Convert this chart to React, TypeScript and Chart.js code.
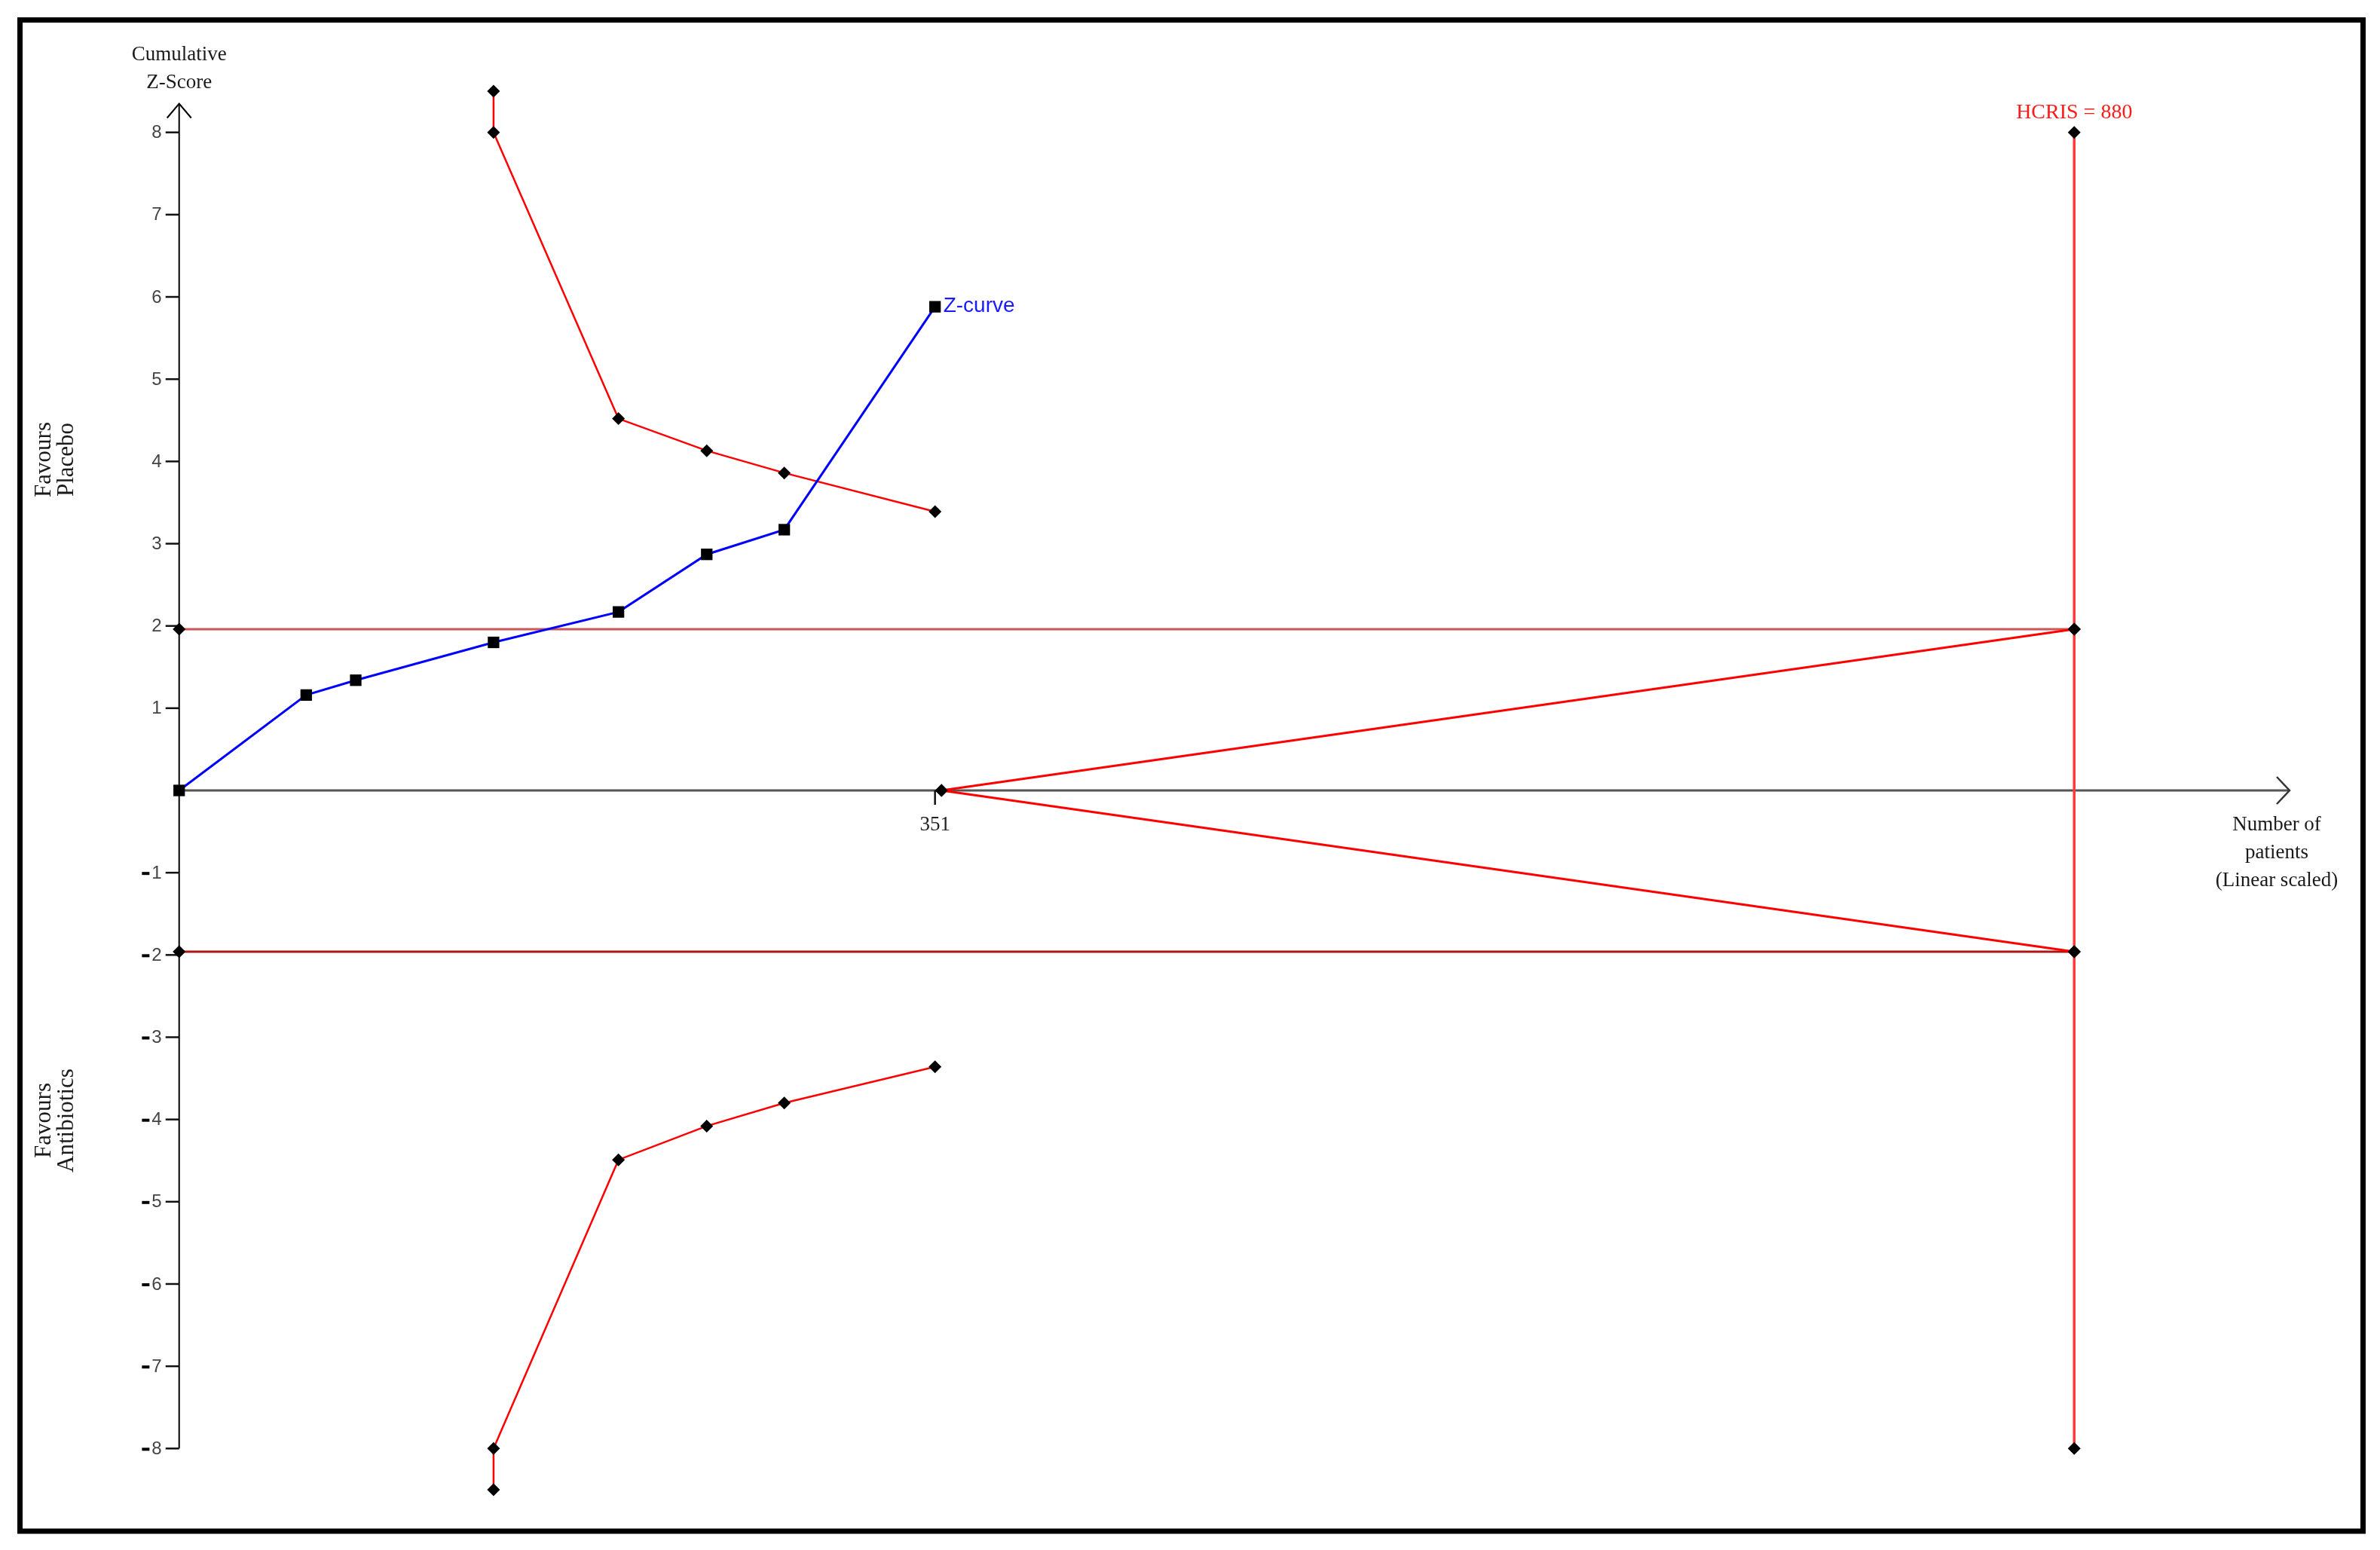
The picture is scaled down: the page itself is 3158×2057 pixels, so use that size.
import React, { useEffect, useRef } from 'react';
import { Chart, registerables } from 'chart.js';

Chart.register(...registerables);

// ---- Data ----
const zCurvePatients = [0, 59, 82, 146, 204, 245, 281, 351];
const zCurveScores = [0, 1.16, 1.34, 1.8, 2.17, 2.87, 3.17, 5.88];

const boundaryPatients = [146, 146, 204, 245, 281, 351];
const upperBoundary = [8.5, 8, 4.52, 4.13, 3.86, 3.39];
const lowerBoundary = [-8.5, -8, -4.49, -4.08, -3.8, -3.36];

const conventionalPatients = [0, 880];
const conventionalUpper = [1.96, 1.96];
const conventionalLower = [-1.96, -1.96];

const wedgePatients = [354, 880];
const wedgeUpper = [0, 1.96];
const wedgeLower = [0, -1.96];

const risPatients = [880, 880, 880, 880];
const risValues = [8, 1.96, -1.96, -8];

const yTickValues = [-8, -7, -6, -5, -4, -3, -2, -1, 1, 2, 3, 4, 5, 6, 7, 8];
const xTickValues = [351];
const xTickLabels = ['351'];

const risPatientsLabel = 'HCRIS = 880';
const zCurveLabel = 'Z-curve';
const yTitleLines = ['Cumulative', 'Z-Score'];
const xTitleLines = ['Number of', 'patients', '(Linear scaled)'];
const upperSideLines = ['Favours', 'Placebo'];
const lowerSideLines = ['Favours', 'Antibiotics'];

const X_MIN = 0;
const X_MAX = 980;
const Y_MIN = -8.6;
const Y_MAX = 8.6;
const Y_AXIS_BOTTOM = -8;
const Y_AXIS_TOP = 8.35;

const pts = (xs: number[], ys: number[]) => xs.map((x, i) => ({ x, y: ys[i] }));

const SERIF = "'Liberation Serif', 'Times New Roman', serif";
const SANS = "'Liberation Sans', Arial, sans-serif";

const decorPlugin = {
  id: 'tsaDecor',
  beforeDraw(chart: any) {
    const ctx = chart.ctx;
    ctx.save();
    ctx.fillStyle = '#ffffff';
    ctx.fillRect(0, 0, chart.width, chart.height);
    ctx.restore();
  },
  beforeDatasetsDraw(chart: any) {
    const ctx = chart.ctx;
    const xs = chart.scales.x;
    const ys = chart.scales.y;
    const x0 = xs.getPixelForValue(0);
    const y0 = ys.getPixelForValue(0);
    const yTop = ys.getPixelForValue(Y_AXIS_TOP);
    ctx.save();
    // y axis
    ctx.strokeStyle = '#000';
    ctx.lineWidth = 2;
    ctx.beginPath();
    ctx.moveTo(x0, ys.getPixelForValue(Y_AXIS_BOTTOM));
    ctx.lineTo(x0, yTop);
    ctx.stroke();
    ctx.beginPath();
    ctx.moveTo(x0 - 16, yTop + 19);
    ctx.lineTo(x0, yTop);
    ctx.lineTo(x0 + 16, yTop + 19);
    ctx.stroke();
    // y ticks + labels
    ctx.lineWidth = 2.5;
    ctx.textBaseline = 'middle';
    ctx.textAlign = 'right';
    for (const v of yTickValues) {
      const py = ys.getPixelForValue(v);
      ctx.strokeStyle = '#111';
      ctx.beginPath();
      ctx.moveTo(x0 - 18, py);
      ctx.lineTo(x0, py);
      ctx.stroke();
      const digits = String(Math.abs(v));
      ctx.font = `24px ${SANS}`;
      ctx.fillStyle = '#444';
      const labelRight = x0 - 23;
      ctx.fillText(digits, labelRight, py + 1);
      if (v < 0) {
        const w = ctx.measureText(digits).width;
        ctx.fillStyle = '#000';
        ctx.fillRect(labelRight - w - 13, py - 1, 10, 4);
      }
    }
    // x axis
    ctx.strokeStyle = '#555';
    ctx.lineWidth = 3;
    ctx.beginPath();
    ctx.moveTo(x0, y0);
    ctx.lineTo(xs.right, y0);
    ctx.stroke();
    ctx.lineWidth = 2.5;
    ctx.strokeStyle = '#333';
    ctx.beginPath();
    ctx.moveTo(xs.right - 17, y0 - 18);
    ctx.lineTo(xs.right, y0);
    ctx.lineTo(xs.right - 17, y0 + 18);
    ctx.stroke();
    // x ticks
    ctx.strokeStyle = '#111';
    ctx.lineWidth = 2.5;
    ctx.font = `27px ${SERIF}`;
    ctx.fillStyle = '#222';
    ctx.textAlign = 'center';
    xTickValues.forEach((v, i) => {
      const px = xs.getPixelForValue(v);
      ctx.beginPath();
      ctx.moveTo(px, y0);
      ctx.lineTo(px, y0 + 19);
      ctx.stroke();
      ctx.fillText(xTickLabels[i], px, y0 + 46);
    });
    ctx.restore();
  },
  afterDraw(chart: any) {
    const ctx = chart.ctx;
    const xs = chart.scales.x;
    const ys = chart.scales.y;
    const x0 = xs.getPixelForValue(0);
    const y0 = ys.getPixelForValue(0);
    ctx.save();
    ctx.textAlign = 'center';
    ctx.textBaseline = 'middle';
    // y title
    ctx.font = `27px ${SERIF}`;
    ctx.fillStyle = '#1a1a1a';
    yTitleLines.forEach((t, i) => ctx.fillText(t, x0, 73 + i * 37));
    // x title
    const xt = xs.getPixelForValue(X_MAX) - 17;
    xTitleLines.forEach((t, i) => ctx.fillText(t, xt, y0 + 46 + i * 37));
    // RIS label
    ctx.fillStyle = '#ff1a1a';
    ctx.font = `28px ${SERIF}`;
    ctx.fillText(risPatientsLabel, xs.getPixelForValue(880), ys.getPixelForValue(8) - 26);
    // Z-curve label
    ctx.fillStyle = '#1a1aff';
    ctx.font = `28px ${SANS}`;
    ctx.textAlign = 'left';
    const lastI = zCurvePatients.length - 1;
    ctx.fillText(
      zCurveLabel,
      xs.getPixelForValue(zCurvePatients[lastI]) + 11,
      ys.getPixelForValue(zCurveScores[lastI]) - 1
    );
    // side labels (rotated)
    ctx.fillStyle = '#1a1a1a';
    ctx.font = `31px ${SERIF}`;
    ctx.textAlign = 'center';
    const drawSide = (lines: string[], cy: number) => {
      ctx.save();
      ctx.translate(74, cy);
      ctx.rotate(-Math.PI / 2);
      lines.forEach((t, i) => ctx.fillText(t, 0, -15 + i * 30));
      ctx.restore();
    };
    drawSide(upperSideLines, 610);
    drawSide(lowerSideLines, 1487);
    // frame
    ctx.strokeStyle = '#000';
    ctx.lineWidth = 7;
    ctx.strokeRect(26.5, 26.5, 3109, 2005.5);
    ctx.restore();
  },
};

export default function App() {
  const canvasRef = useRef<HTMLCanvasElement | null>(null);

  useEffect(() => {
    if (!canvasRef.current) return;
    const diamond = {
      pointStyle: 'rectRot',
      pointRadius: 8.5,
      pointBackgroundColor: '#000',
      pointBorderColor: '#000',
      pointBorderWidth: 0,
    };
    const common = { showLine: true, fill: false, tension: 0, clip: false as any };
    const chart = new Chart(canvasRef.current, {
      type: 'scatter',
      data: {
        datasets: [
          {
            ...common,
            label: 'Z-curve',
            data: pts(zCurvePatients, zCurveScores),
            borderColor: '#0000ff',
            borderWidth: 3,
            pointStyle: 'rect',
            pointRadius: 10.8,
            pointBackgroundColor: '#000',
            pointBorderColor: '#000',
            pointBorderWidth: 0,
          },
          {
            ...common,
            ...diamond,
            label: 'Upper boundary',
            data: pts(boundaryPatients, upperBoundary),
            borderColor: '#ff0000',
            borderWidth: 2.5,
          },
          {
            ...common,
            ...diamond,
            label: 'Lower boundary',
            data: pts(boundaryPatients, lowerBoundary),
            borderColor: '#ff0000',
            borderWidth: 2.5,
          },
          {
            ...common,
            ...diamond,
            label: 'Wedge upper',
            data: pts(wedgePatients, wedgeUpper),
            borderColor: '#ff0000',
            borderWidth: 3,
          },
          {
            ...common,
            ...diamond,
            label: 'Wedge lower',
            data: pts(wedgePatients, wedgeLower),
            borderColor: '#ff0000',
            borderWidth: 3,
          },
          {
            ...common,
            ...diamond,
            label: 'RIS',
            data: pts(risPatients, risValues),
            borderColor: '#ff3a3a',
            borderWidth: 3.5,
          },
          {
            ...common,
            ...diamond,
            label: 'Conventional upper',
            data: pts(conventionalPatients, conventionalUpper),
            borderColor: '#cc5555',
            borderWidth: 3,
          },
          {
            ...common,
            ...diamond,
            label: 'Conventional lower',
            data: pts(conventionalPatients, conventionalLower),
            borderColor: '#b01515',
            borderWidth: 3,
          },
        ] as any,
      },
      options: {
        animation: false,
        responsive: false,
        devicePixelRatio: 1,
        events: [],
        layout: {
          padding: { left: 237.7, right: 120, top: 110.2, bottom: 69.2 },
        },
        scales: {
          x: { type: 'linear', min: X_MIN, max: X_MAX, display: false },
          y: { type: 'linear', min: Y_MIN, max: Y_MAX, display: false },
        },
        plugins: {
          legend: { display: false },
          tooltip: { enabled: false },
        },
      } as any,
      plugins: [decorPlugin],
    });
    return () => chart.destroy();
  }, []);

  return (
    <div style={{ position: 'absolute', left: 0, top: 0, width: 3158, height: 2057, background: '#fff' }}>
      <canvas ref={canvasRef} width={3158} height={2057} style={{ display: 'block', width: 3158, height: 2057 }} />
    </div>
  );
}
